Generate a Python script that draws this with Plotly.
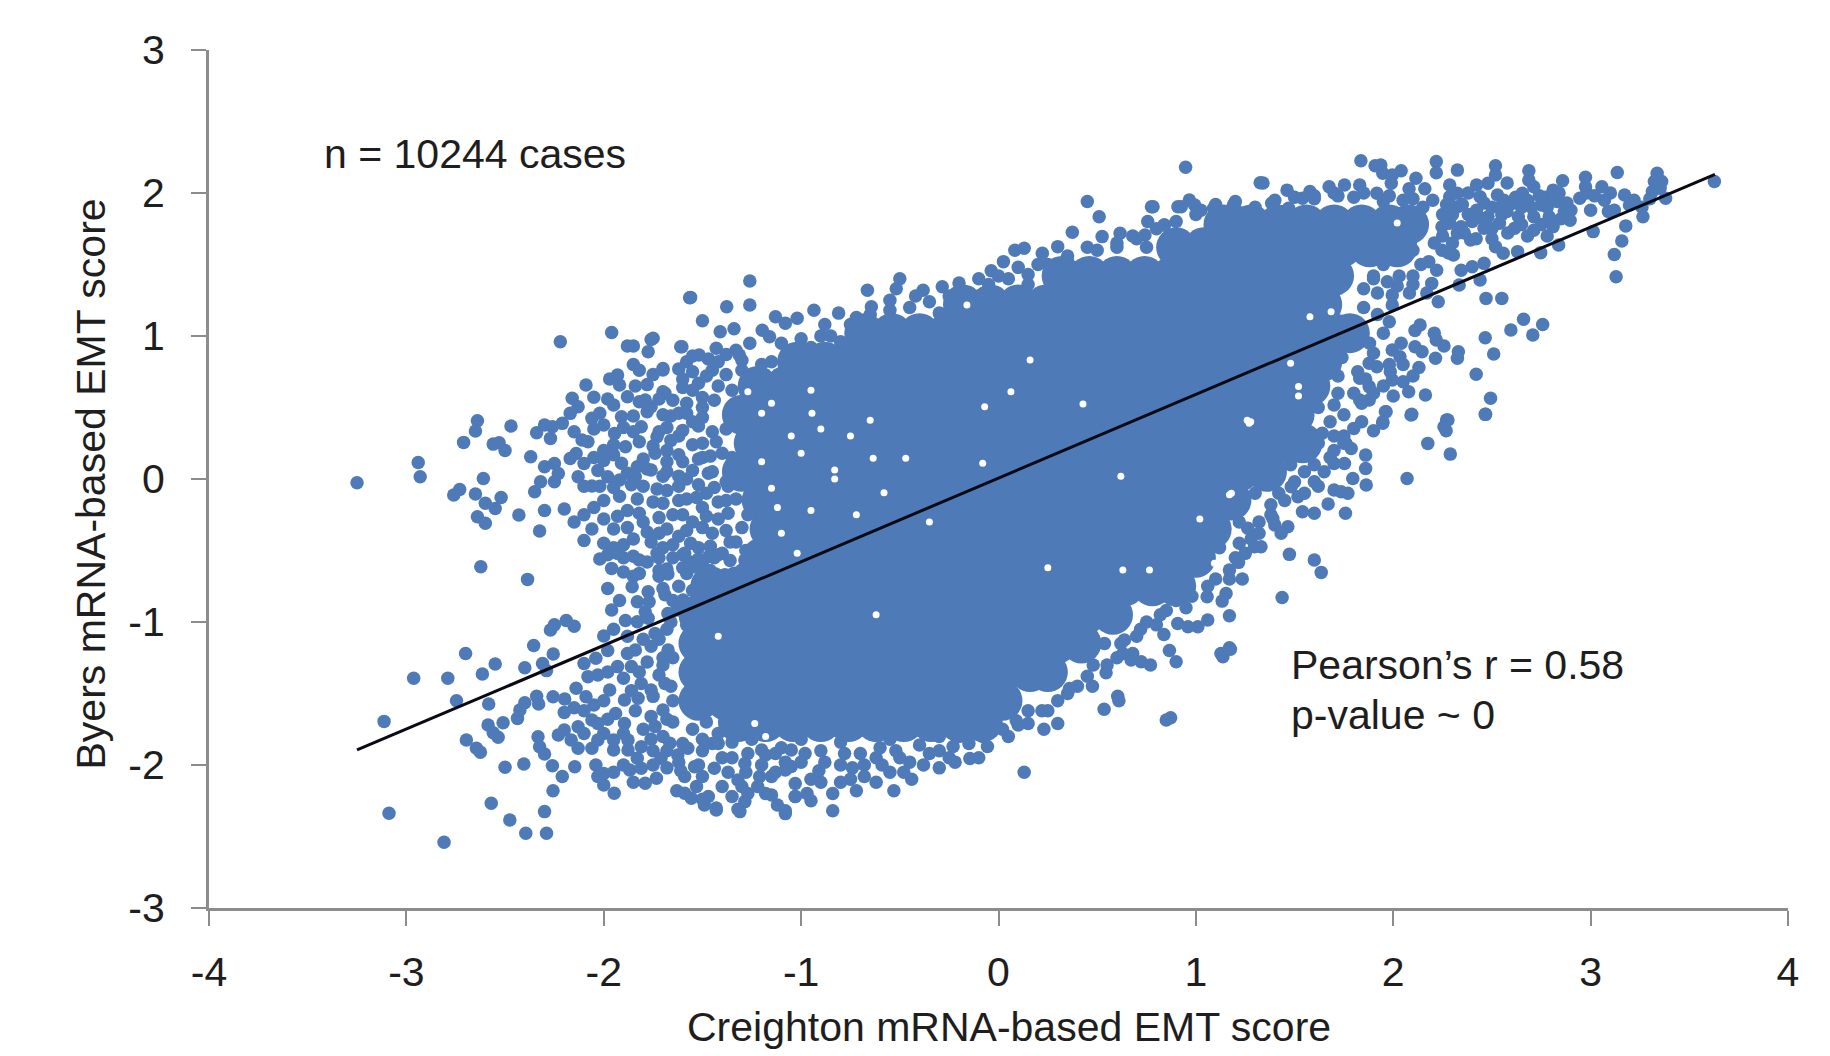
import plotly.graph_objects as go

X_TICKS = [-4, -3, -2, -1, 0, 1, 2, 3, 4]
X_TICK_LABELS = ["-4", "-3", "-2", "-1", "0", "1", "2", "3", "4"]
Y_TICKS = [-3, -2, -1, 0, 1, 2, 3]
Y_TICK_LABELS = ["-3", "-2", "-1", "0", "1", "2", "3"]
FIT_X = [-3.25, 3.63]
FIT_Y = [-1.895, 2.13]

# Saturated body of the cloud, where single cases cannot be told apart: (y, [x...])
core_rows = [
    (1.78, [1.14, 1.28, 1.42, 1.56, 1.70, 1.84, 1.98, 2.08]),
    (1.62, [0.90, 1.04, 1.18, 1.32, 1.46, 1.60, 1.74, 1.88, 2.02]),
    (1.42, [0.32, 0.46, 0.60, 0.74, 0.88, 1.02, 1.16, 1.30, 1.44, 1.58, 1.70]),
    (1.22, [-0.18, -0.04, 0.10, 0.24, 0.38, 0.52, 0.66, 0.80, 0.94, 1.08, 1.22, 1.36, 1.50, 1.64]),
    (1.02, [-0.68, -0.54, -0.40, -0.26, -0.12, 0.02, 0.16, 0.30, 0.44, 0.58, 0.72, 0.86, 1.00, 1.14, 1.28, 1.42, 1.56, 1.70, 1.78]),
    (0.82, [-1.02, -0.88, -0.74, -0.60, -0.46, -0.32, -0.18, -0.04, 0.10, 0.24, 0.38, 0.52, 0.66, 0.80, 0.94, 1.08, 1.22, 1.36, 1.50, 1.64]),
    (0.65, [-1.22, -1.08, -0.94, -0.80, -0.66, -0.52, -0.38, -0.24, -0.10, 0.04, 0.18, 0.32, 0.46, 0.60, 0.74, 0.88, 1.02, 1.16, 1.30, 1.44, 1.58]),
    (0.45, [-1.30, -1.16, -1.02, -0.88, -0.74, -0.60, -0.46, -0.32, -0.18, -0.04, 0.10, 0.24, 0.38, 0.52, 0.66, 0.80, 0.94, 1.08, 1.22, 1.36, 1.50]),
    (0.25, [-1.24, -1.10, -0.96, -0.82, -0.68, -0.54, -0.40, -0.26, -0.12, 0.02, 0.16, 0.30, 0.44, 0.58, 0.72, 0.86, 1.00, 1.14, 1.28, 1.42, 1.54]),
    (0.05, [-1.30, -1.16, -1.02, -0.88, -0.74, -0.60, -0.46, -0.32, -0.18, -0.04, 0.10, 0.24, 0.38, 0.52, 0.66, 0.80, 0.94, 1.08, 1.22, 1.36]),
    (-0.15, [-1.20, -1.06, -0.92, -0.78, -0.64, -0.50, -0.36, -0.22, -0.08, 0.06, 0.20, 0.34, 0.48, 0.62, 0.76, 0.90, 1.04, 1.18]),
    (-0.35, [-1.16, -1.02, -0.88, -0.74, -0.60, -0.46, -0.32, -0.18, -0.04, 0.10, 0.24, 0.38, 0.52, 0.66, 0.80, 0.94, 1.08]),
    (-0.55, [-1.20, -1.06, -0.92, -0.78, -0.64, -0.50, -0.36, -0.22, -0.08, 0.06, 0.20, 0.34, 0.48, 0.62, 0.76, 0.90, 1.00]),
    (-0.75, [-1.46, -1.32, -1.18, -1.04, -0.90, -0.76, -0.62, -0.48, -0.34, -0.20, -0.06, 0.08, 0.22, 0.36, 0.50, 0.64, 0.78, 0.90]),
    (-0.95, [-1.52, -1.38, -1.24, -1.10, -0.96, -0.82, -0.68, -0.54, -0.40, -0.26, -0.12, 0.02, 0.16, 0.30, 0.44, 0.58]),
    (-1.15, [-1.52, -1.38, -1.24, -1.10, -0.96, -0.82, -0.68, -0.54, -0.40, -0.26, -0.12, 0.02, 0.16, 0.30, 0.42]),
    (-1.35, [-1.52, -1.38, -1.24, -1.10, -0.96, -0.82, -0.68, -0.54, -0.40, -0.26, -0.12, 0.02, 0.16, 0.25]),
    (-1.55, [-1.52, -1.38, -1.24, -1.10, -0.96, -0.82, -0.68, -0.54, -0.40, -0.26, -0.12, 0.02]),
    (-1.70, [-1.32, -1.18, -1.04, -0.90, -0.76, -0.62, -0.48, -0.34, -0.20, -0.08]),
]

# Small uncovered specks inside the saturated body
gap_points = [
    (0.063, 0.611), (0.16, 0.832), (-0.07, 0.506), (0.428, 0.524), (-0.83, 0.063), (-0.83, 0.0),
    (-1.15, 0.53), (-1.2, 0.46), (-0.945, 0.46), (-0.08, 0.11), (-1.15, -0.065),
    (-0.47, 0.145), (-0.635, 0.145), (-1.2, 0.12), (-0.65, 0.41), (-1.27, 0.61),
    (1.26, 0.41), (1.18, -0.1), (-0.58, -0.096), (-0.855, 1.10),
    (-0.81, 1.10), (-0.16, 1.217), (1.27, 0.39), (1.17, -0.11), (1.094, -0.59),
    (0.63, -0.637), (0.765, -0.637), (0.91, -0.847),
    (1.52, 0.646), (1.52, 0.58), (1.278, 0.4),
    (1.578, 1.135), (2.02, 1.79), (1.685, 1.17), (1.48, 0.81), (-1.547, -1.813),
    (-1.42, -1.10), (-1.18, -1.80), (-1.235, -1.71),
    (-0.35, -0.30), (0.25, -0.62), (-0.62, -0.95), (0.62, 0.02), (1.02, -0.28), (-0.95, -0.22),
    (-1.05, 0.3), (-1.0, 0.18), (-1.12, -0.2), (-0.9, 0.35), (-0.75, 0.3), (-1.1, -0.38),
    (-0.95, 0.62), (-1.02, -0.52), (-0.72, -0.25),
]

left_upper_points = [
    (-3.25, -0.026), (-2.94, 0.116), (-2.93, 0.016), (-2.64, 0.408), (-2.65, 0.335), (-2.47, 0.37),
    (-2.71, 0.256), (-2.56, 0.244), (-2.53, 0.254), (-2.50, 0.20), (-2.37, 0.156), (-2.61, 0.004),
    (-2.73, -0.073), (-2.76, -0.112), (-2.65, -0.105), (-2.52, -0.129), (-2.60, -0.17), (-2.55, -0.206),
    (-2.43, -0.252), (-2.64, -0.264), (-2.60, -0.31), (-2.325, -0.364), (-2.35, -0.089), (-2.30, -0.22),
    (-2.20, -0.21), (-2.22, 0.96), (-1.96, 1.025), (-1.85, 0.93), (-1.88, 0.93), (-1.76, 0.976),
    (-1.775, 0.89), (-1.85, 0.80), (-1.70, 0.773), (-1.61, 0.925), (-1.565, 1.268), (-2.34, 0.324),
    (-2.30, 0.377), (-2.26, 0.365), (-2.27, 0.284), (-2.21, 0.389), (-2.16, 0.564), (-2.17, 0.459),
    (-2.13, 0.505), (-2.09, 0.657), (-2.05, 0.571), (-2.06, 0.424), (-2.15, 0.33), (-2.11, 0.272),
    (-2.14, 0.179), (-2.10, 0.109), (-2.17, 0.144), (-2.25, 0.109), (-2.30, 0.086), (-2.23, 0.039),
    (-2.32, -0.019), (-2.25, -0.019), (-2.13, 0.016), (-2.06, -0.049), (-1.93, 0.727), (-1.97, 0.70),
    (-1.92, 0.657), (-1.84, 0.65), (-1.88, 0.575), (-1.79, 0.552), (-1.69, 0.6), (-1.95, 0.517),
    (-1.91, 0.435), (-2.0, 0.377), (-1.945, 0.319), (-1.89, 0.226), (-2.0, 0.2), (-2.0, 0.13),
    (-1.91, 0.11), (-1.98, 0.016), (-1.92, -0.007), (-1.83, 0.086), (-1.84, 0.016), (-1.76, 0.505),
    (-1.81, 0.366), (-1.73, 0.296), (-1.74, 0.18), (-1.76, 0.063), (-2.05, -0.2), (-2.0, -0.28),
    (-1.95, -0.35), (-1.92, -0.12), (-1.88, -0.22), (-1.85, -0.42), (-1.8, -0.05), (-1.8, -0.3),
    (-1.75, -0.16), (-1.72, -0.38), (-1.7, -0.48), (-1.68, -0.08), (-1.65, -0.25), (-1.62, -0.4),
    (-1.58, 0.0), (-1.58, -0.14), (-1.55, -0.3), (-1.52, -0.48), (-1.5, -0.2), (-1.48, -0.1),
    (-1.45, -0.38), (-1.42, -0.28), (-1.4, -0.52), (-1.38, -0.15), (-1.36, -0.44), (-1.95, -0.48),
    (-1.9, -0.55), (-1.78, -0.58), (-1.65, -0.55), (-1.6, -0.62), (-1.5, -0.6), (-2.1, -0.43),
    (-2.15, -0.3), (-2.02, -0.05), (-1.7, 0.45), (-1.65, 0.55), (-1.6, 0.7), (-1.58, 0.82),
    (-1.55, 0.62), (-1.55, 0.4), (-1.62, 0.3), (-1.68, 0.2), (-1.6, 0.12), (-1.55, 0.24),
    (-1.7, 0.02), (-1.62, 0.02), (-1.72, 0.33), (-1.5, 0.5), (-1.48, 0.72), (-1.42, 0.82),
    (-1.33, 0.9), (-1.5, 0.15), (-1.45, 0.05), (-1.62, 0.46), (-1.26, 0.95),
]

left_fill_points = [
    (-1.55, 0.86), (-1.47, 0.84), (-1.38, 0.87), (-1.3, 0.83), (-1.82, 0.76), (-1.75, 0.73), (-1.62, 0.77),
    (-1.55, 0.75), (-1.45, 0.76), (-1.38, 0.73), (-1.3, 0.76), (-1.78, 0.66), (-1.6, 0.64), (-1.52, 0.67),
    (-1.42, 0.65), (-1.35, 0.62), (-1.98, 0.56), (-1.82, 0.54), (-1.72, 0.56), (-1.58, 0.53), (-1.5, 0.57),
    (-1.44, 0.55), (-2.02, 0.46), (-1.85, 0.44), (-1.78, 0.47), (-1.66, 0.44), (-1.58, 0.46), (-1.5, 0.43),
    (-2.05, 0.35), (-1.9, 0.36), (-1.85, 0.33), (-1.68, 0.36), (-1.6, 0.34), (-1.52, 0.37), (-1.45, 0.33),
    (-2.08, 0.26), (-1.95, 0.24), (-1.82, 0.26), (-1.75, 0.23), (-1.66, 0.27), (-1.5, 0.25), (-1.43, 0.26),
    (-2.05, 0.15), (-1.95, 0.17), (-1.8, 0.14), (-1.68, 0.12), (-1.62, 0.17), (-1.52, 0.14), (-1.46, 0.16),
    (-2.03, 0.06), (-1.88, 0.04), (-1.78, 0.07), (-1.68, 0.05), (-1.55, 0.06), (-1.47, 0.04), (-2.1, -0.05),
    (-1.95, -0.06), (-1.86, -0.04), (-1.73, -0.07), (-1.62, -0.05), (-1.52, -0.04), (-1.44, -0.06), (-1.37, -0.05),
    (-2.0, -0.15), (-1.83, -0.14), (-1.7, -0.17), (-1.62, -0.15), (-1.53, -0.13), (-1.42, -0.16), (-1.33, -0.14),
    (-2.1, -0.25), (-1.93, -0.26), (-1.82, -0.24), (-1.72, -0.27), (-1.6, -0.25), (-1.48, -0.26), (-1.37, -0.24),
    (-2.06, -0.35), (-1.88, -0.34), (-1.78, -0.37), (-1.68, -0.35), (-1.58, -0.36), (-1.5, -0.34), (-1.38, -0.36),
    (-1.3, -0.34), (-2.0, -0.45), (-1.9, -0.46), (-1.76, -0.44), (-1.65, -0.46), (-1.56, -0.45), (-1.46, -0.47),
    (-1.33, -0.44), (-2.02, -0.56), (-1.85, -0.54), (-1.72, -0.55), (-1.6, -0.53), (-1.52, -0.56), (-1.44, -0.55),
    (-1.36, -0.57), (-1.9, -0.65), (-1.82, -0.66), (-1.72, -0.64), (-1.58, -0.66), (-1.46, -0.64), (-1.34, -0.66),
    (-1.68, -0.63), (-1.28, -0.5), (-1.27, -0.25), (-1.35, 0.15), (-1.38, 0.35), (-1.4, 0.18), (-1.38, -0.02),
]

upper_edge_points = [
    (-1.26, 1.385), (-1.56, 1.27), (-1.377, 1.205), (-1.26, 1.217), (-1.5, 1.107), (-1.41, 1.03),
    (-1.34, 1.05), (-1.197, 1.04), (-1.13, 1.135), (-1.08, 1.09), (-1.02, 1.124), (-1.16, 0.995),
    (-0.935, 1.18), (-0.81, 1.16), (-0.664, 1.32), (-0.5, 1.40), (-0.518, 1.33), (-0.644, 1.205),
    (-0.382, 1.32), (-0.285, 1.345), (-0.037, 1.457), (0.025, 1.52), (0.083, 1.6), (0.13, 1.613),
    (0.222, 1.578), (0.3, 1.625), (0.374, 1.725), (0.51, 1.834), (0.45, 1.94), (0.616, 1.718),
    (0.525, 1.695), (0.742, 1.706), (0.756, 1.8), (0.775, 1.904), (0.84, 1.776), (0.926, 1.904),
    (0.994, 1.916), (1.09, 1.893), (1.197, 1.904), (-1.604, 0.925), (-1.70, 0.762), (-1.75, 0.984),
    (-1.517, 0.867), (-1.43, 0.914), (-1.313, 0.867), (-1.70, 0.61), (-0.88, 1.08), (-0.72, 1.13),
    (-0.55, 1.25), (-0.42, 1.28), (-0.2, 1.37), (-0.1, 1.4), (0.0, 1.42), (0.1, 1.48),
    (0.2, 1.5), (0.35, 1.56), (0.45, 1.62), (0.6, 1.65), (0.68, 1.7), (0.948, 2.18),
    (1.326, 2.072), (1.34, 2.07), (1.462, 2.02), (0.967, 1.951), (0.909, 1.904), (1.026, 1.88),
    (1.1, 1.88), (1.19, 1.916), (1.23, 1.858), (1.384, 1.928), (1.297, 1.858), (1.47, 1.893),
    (1.578, 2.01), (1.54, 1.963), (1.675, 2.044), (1.753, 2.056), (1.83, 2.056), (1.917, 1.998),
    (0.783, 1.904), (0.84, 1.776), (1.6, 1.96), (1.72, 1.98), (1.8, 1.97), (1.98, 1.98),
    (2.08, 2.03), (2.16, 2.03), (2.2, 1.95), (2.1, 1.96), (-1.2, 0.8), (-1.1, 0.95),
    (-1.0, 0.98), (-0.9, 1.0), (-0.85, 1.0), (-0.75, 1.08), (-0.65, 1.15), (-0.55, 1.18),
    (-0.45, 1.2), (-0.35, 1.24), (-0.25, 1.28), (-0.15, 1.3), (-0.05, 1.36), (0.05, 1.4),
    (0.15, 1.43), (0.25, 1.5), (0.35, 1.52), (0.5, 1.6), (0.6, 1.62), (0.7, 1.68),
    (0.8, 1.75), (0.9, 1.8), (1.0, 1.85), (1.1, 1.92), (1.2, 1.94), (1.3, 1.9),
    (1.4, 1.95), (1.5, 1.97), (1.6, 1.98), (1.7, 2.0), (1.85, 2.0), (1.95, 1.94),
    (2.05, 1.95), (2.15, 1.9), (-1.25, 0.72), (-1.15, 0.82), (-1.05, 0.88), (-0.95, 0.92),
    (-0.8, 0.96), (-0.55, 1.12), (-0.3, 1.16), (-0.1, 1.28), (0.15, 1.36), (0.4, 1.48), (0.75, 1.62),
]

upper_right_points = [
    (1.836, 2.226), (1.937, 2.196), (1.908, 2.19), (1.947, 2.138), (2.04, 2.156), (1.995, 2.126),
    (1.99, 2.068), (2.115, 2.103), (2.218, 2.22), (2.218, 2.142), (2.325, 2.16), (2.518, 2.19),
    (2.518, 2.126), (2.577, 2.07), (2.687, 2.156), (2.687, 2.09), (2.858, 2.086), (2.974, 2.11),
    (2.974, 2.044), (2.945, 1.963), (3.057, 2.044), (3.07, 1.95), (3.09, 1.87), (3.135, 2.144),
    (3.172, 1.986), (3.197, 1.916), (3.337, 2.138), (3.323, 2.08), (3.352, 2.033), (3.313, 2.01),
    (3.38, 1.963), (3.627, 2.08), (3.265, 1.834), (3.178, 1.77), (3.158, 1.664), (3.12, 1.57),
    (3.129, 1.415), (3.013, 1.73), (2.838, 1.636), (2.747, 1.583), (2.63, 1.59), (2.557, 1.578),
    (2.518, 1.625), (2.46, 1.508), (2.40, 1.485), (2.344, 1.46), (2.44, 1.392), (2.334, 1.357),
    (2.47, 1.263), (2.55, 1.263), (2.195, 1.368), (2.228, 1.24), (2.17, 1.30), (2.082, 1.30),
    (1.995, 1.287), (1.995, 1.217), (2.286, 2.056), (2.286, 1.974), (2.325, 1.998), (2.325, 1.904),
    (2.286, 1.788), (2.247, 1.764), (2.344, 1.764), (2.392, 1.672), (2.325, 1.718), (2.247, 1.6),
    (2.305, 1.566), (2.208, 1.65), (2.422, 2.056), (2.48, 2.068), (2.44, 1.974), (2.528, 1.986),
    (2.422, 1.88), (2.48, 1.834), (2.46, 1.753), (2.538, 1.788), (2.615, 1.753), (2.605, 1.928),
    (2.654, 1.998), (2.712, 2.044), (2.81, 2.02), (2.83, 1.94), (2.75, 1.916), (2.712, 1.74),
    (2.81, 1.765), (2.896, 1.81), (2.867, 1.87), (2.79, 1.834), (2.634, 1.834), (2.712, 1.834),
    (2.576, 1.87), (2.5, 1.9), (2.4, 1.8), (2.56, 1.95), (2.65, 1.9), (2.74, 1.98),
    (2.3, 1.85), (2.88, 1.93), (2.78, 1.9), (2.1, 1.6), (2.14, 1.5), (2.05, 1.55),
    (2.1, 1.42), (2.03, 1.42), (1.95, 1.5), (1.9, 1.42), (1.85, 1.33), (1.92, 1.3),
    (2.35, 1.92), (2.38, 2.0), (2.38, 1.85), (2.45, 1.82), (2.5, 1.75), (2.55, 1.85),
    (2.58, 1.72), (2.65, 1.78), (2.68, 1.7), (2.75, 1.78), (2.78, 1.7), (2.85, 1.82),
    (2.9, 1.88), (2.62, 1.97), (2.68, 1.95), (2.7, 1.9), (2.77, 1.97), (2.84, 2.0),
    (2.46, 1.93), (2.54, 1.9), (2.36, 1.72), (2.42, 1.68), (2.5, 1.68), (2.3, 1.65),
    (2.25, 1.7), (2.25, 1.85), (2.27, 1.92), (3.1, 2.0), (3.02, 1.98), (3.12, 1.88),
    (3.22, 1.95), (3.26, 1.9), (3.3, 1.96), (3.36, 2.08), (3.0, 1.88), (2.98, 2.0),
    (2.18, 1.52), (2.22, 1.46), (2.28, 1.58), (2.1, 1.36), (2.02, 1.35), (1.97, 1.38),
]

right_lower_points = [
    (2.66, 1.117), (2.757, 1.08), (2.596, 1.042), (2.707, 1.007), (2.466, 0.988), (2.509, 0.874),
    (2.42, 0.732), (2.493, 0.564), (2.466, 0.452), (2.136, 1.077), (2.11, 1.038), (2.208, 1.02),
    (2.218, 0.972), (2.257, 0.93), (2.33, 0.89), (2.325, 0.844), (2.214, 0.844), (2.146, 0.89),
    (2.04, 0.95), (2.11, 0.925), (1.995, 0.902), (2.034, 0.855), (2.13, 0.78), (2.10, 0.72),
    (1.985, 0.75), (1.995, 0.692), (2.078, 0.61), (2.163, 0.587), (2.09, 0.447), (2.27, 0.413),
    (2.257, 0.366), (1.96, 0.47), (1.947, 0.4), (1.878, 0.646), (1.83, 0.552), (1.878, 0.552),
    (1.878, 0.81), (1.917, 0.785), (1.83, 0.704), (1.70, 0.517), (1.84, 0.53), (1.964, 0.47),
    (1.947, 0.39), (1.90, 0.338), (1.84, 0.40), (1.80, 0.354), (2.094, 0.452), (2.277, 0.412),
    (2.268, 0.338), (2.468, 0.452), (2.175, 0.249), (2.289, 0.174), (2.07, 0.004), (1.86, 0.167),
    (1.86, 0.074), (1.863, -0.042), (1.795, 0.004), (1.753, 0.109), (1.70, 0.109), (1.65, 0.05),
    (1.787, 0.214), (1.76, 0.249), (1.736, -0.089), (1.77, -0.1), (1.70, -0.077), (1.60, -0.019),
    (1.67, -0.175), (1.758, -0.24), (1.60, -0.24), (1.54, -0.229), (1.517, -0.124), (1.483, -0.054),
    (1.39, -0.276), (1.40, -0.322), (1.466, -0.334), (1.432, -0.38), (1.297, -0.474), (1.33, -0.474),
    (1.474, -0.527), (1.60, -0.567), (1.635, -0.653), (1.437, -0.828), (1.216, -0.583), (1.17, -0.637),
    (1.235, -0.70), (1.153, -0.80), (1.133, -0.854), (1.17, -0.956), (1.057, -0.823), (1.06, -0.986),
    (1.01, -1.033), (0.96, -1.033), (0.908, -1.01), (0.838, -1.087), (0.866, -1.2), (0.90, -1.278),
    (1.175, -1.19), (1.137, -1.243), (0.723, -1.278), (0.672, -1.266), (0.63, -1.22), (0.545, -1.355),
    (0.604, -1.52), (0.537, -1.15), (0.638, -1.126), (1.263, -0.345), (1.7, 0.3), (1.62, 0.25),
    (1.55, -0.1), (1.45, -0.15), (1.32, -0.3), (1.22, -0.45), (0.75, -1.0), (0.85, -0.92),
    (0.95, -0.9), (0.7, -1.1), (0.6, -1.25), (0.45, -1.38), (0.35, -1.5), (0.22, -1.62),
    (0.05, -1.8), (1.9, 1.4), (1.85, 1.2), (1.92, 1.15), (1.98, 1.1), (1.95, 1.02),
    (1.88, 0.95), (1.9, 0.88), (1.82, 0.75), (1.86, 0.7), (1.8, 0.6), (1.72, 0.6),
    (1.75, 0.45), (1.68, 0.4), (1.75, 0.3), (1.7, 0.2), (1.68, 0.15), (1.6, 0.1),
    (1.62, -0.05), (1.55, 0.05), (1.5, -0.02), (1.42, -0.1), (1.38, -0.18), (1.38, -0.25),
    (1.32, -0.38), (1.28, -0.42), (1.25, -0.52), (1.2, -0.55), (1.17, -0.7), (1.1, -0.7),
    (1.06, -0.75), (0.98, -0.82), (0.9, -0.85), (0.82, -0.95), (0.8, -1.02), (0.72, -1.05),
    (0.62, -1.15), (0.55, -1.3), (0.48, -1.3), (0.4, -1.45), (0.3, -1.55), (0.25, -1.62),
    (0.15, -1.62), (0.1, -1.72), (1.9, 0.6), (1.95, 0.65), (2.0, 0.58), (1.98, 0.8),
    (2.05, 0.8), (2.05, 0.68), (1.75, 0.25), (1.72, 0.72), (1.74, 0.85), (1.62, 0.5),
    (1.64, 0.32), (1.48, 0.1), (1.45, 0.2), (1.3, -0.1), (1.22, -0.3), (1.12, -0.48),
]

left_lower_points = [
    (-2.623, -0.613), (-2.386, -0.702), (-1.98, -0.765), (-1.856, -0.753), (-1.96, -0.625), (-1.98, -0.53),
    (-1.93, -0.52), (-1.82, -0.567), (-1.73, -0.52), (-1.675, -0.664), (-1.775, -0.788), (-1.70, -0.765),
    (-1.69, -0.81), (-1.83, -0.858), (-1.77, -0.858), (-1.96, -0.916), (-1.79, -0.928), (-1.89, -0.99),
    (-1.83, -0.998), (-1.775, -0.974), (-1.598, -0.846), (-1.675, -0.94), (-1.63, -0.916), (-1.565, -0.578),
    (-1.54, -0.613), (-1.59, -0.52), (-1.47, -0.543), (-1.42, -0.53), (-1.49, -0.683), (-1.505, -0.74),
    (-1.44, -0.753), (-1.386, -0.67), (-1.30, -0.636), (-1.285, -0.567), (-2.27, -1.056), (-2.25, -1.02),
    (-2.19, -0.99), (-2.15, -1.03), (-2.0, -1.098), (-2.355, -1.165), (-2.256, -1.224), (-2.31, -1.29),
    (-2.29, -1.34), (-2.40, -1.32), (-2.70, -1.22), (-2.55, -1.294), (-2.615, -1.364), (-2.963, -1.394),
    (-2.79, -1.394), (-2.746, -1.55), (-2.583, -1.573), (-3.113, -1.695), (-2.34, -1.52), (-2.33, -1.573),
    (-2.40, -1.564), (-2.425, -1.615), (-2.437, -1.674), (-2.257, -1.522), (-2.198, -1.538), (-2.2, -1.632),
    (-2.586, -1.72), (-2.51, -1.704), (-2.56, -1.774), (-2.535, -1.806), (-2.696, -1.825), (-2.645, -1.883),
    (-2.625, -1.91), (-2.333, -1.802), (-2.325, -1.872), (-2.30, -1.923), (-2.50, -2.016), (-2.405, -1.993),
    (-2.26, -2.005), (-2.147, -2.012), (-2.21, -2.08), (-2.257, -2.18), (-2.57, -2.268), (-2.30, -2.326),
    (-2.476, -2.385), (-3.088, -2.338), (-2.395, -2.478), (-2.29, -2.478), (-2.809, -2.54), (-2.04, -2.0),
    (-2.0, -2.06), (-2.03, -2.08), (-2.0, -2.14), (-1.947, -2.198), (-1.868, -2.035), (-1.81, -2.023),
    (-1.79, -2.128), (-1.733, -2.093), (-1.59, -2.08), (-1.54, -2.012), (-1.59, -2.198), (-1.556, -2.233),
    (-1.53, -2.15), (-1.47, -2.22), (-1.49, -2.28), (-1.43, -2.315), (-1.285, -2.256), (-1.31, -2.326),
    (-1.21, -2.08), (-1.15, -2.21), (-1.08, -2.34), (-1.03, -2.22), (-1.03, -2.13), (-1.44, -2.023),
    (-1.37, -2.05), (-1.32, -2.105), (-1.30, -2.15), (-1.13, -2.05), (-1.08, -2.035), (-1.05, -2.01),
    (-1.27, -1.92), (-1.285, -1.99), (-1.2, -1.895), (-1.13, -1.92), (-1.05, -1.895), (-2.10, -1.29),
    (-2.04, -1.254), (-2.08, -1.382), (-2.03, -1.37), (-2.14, -1.464), (-2.09, -1.522), (-2.05, -1.58),
    (-1.93, -1.312), (-1.86, -1.312), (-1.97, -1.475), (-1.90, -1.394), (-1.84, -1.196), (-1.76, -1.17),
    (-1.674, -1.196), (-1.81, -1.43), (-1.76, -1.475), (-1.69, -1.43), (-1.895, -1.545), (-1.94, -1.64),
    (-1.895, -1.71), (-1.826, -1.533), (-1.76, -1.66), (-1.70, -1.615), (-1.74, -1.73), (-1.70, -1.80),
    (-2.06, -1.685), (-2.13, -1.732), (-2.03, -1.71), (-2.2, -1.755), (-2.23, -1.79), (-2.165, -1.825),
    (-2.13, -1.883), (-2.06, -1.883), (-2.03, -1.825), (-1.95, -1.825), (-1.95, -1.895), (-1.877, -1.825),
    (-1.877, -1.895), (-1.81, -1.872), (-1.83, -1.953), (-1.71, -1.953), (-1.625, -1.93), (-1.574, -1.883),
    (-1.665, -1.848), (-1.70, -1.3), (-1.68, -1.05), (-1.65, -1.55), (-1.65, -1.7), (-1.55, -1.75),
    (-1.5, -1.82), (-1.42, -1.85), (-1.74, -1.08), (-1.95, -1.05), (-1.88, -1.1), (-1.8, -1.12),
    (-1.72, -1.12), (-1.66, -1.0), (-1.7, -1.25), (-1.78, -1.28), (-1.88, -1.22), (-1.98, -1.2),
    (-1.98, -1.35), (-1.82, -1.35), (-1.72, -1.37), (-1.86, -1.48), (-1.75, -1.52), (-1.66, -1.45),
    (-2.0, -1.55), (-1.98, -1.68), (-1.84, -1.62), (-1.68, -1.68), (-1.8, -1.75), (-1.9, -1.78),
    (-2.0, -1.78), (-2.1, -1.62), (-2.15, -1.6), (-1.76, -1.82), (-1.68, -1.9), (-1.75, -1.9),
    (-2.1, -1.78), (-1.65, -1.25), (-1.58, -1.02), (-1.62, -0.75), (-1.55, -0.78), (-1.72, -0.68),
    (-1.85, -0.68), (-1.92, -0.85), (-1.65, -0.85), (-1.95, -2.05), (-1.9, -2.0), (-1.75, -2.0),
    (-1.68, -2.02), (-1.62, -1.98), (-1.85, -2.12),
]

bottom_edge_points = [
    (-1.61, -2.04), (-1.5, -2.08), (-1.63, -2.18), (-1.5, -2.24), (-1.43, -2.3), (-1.32, -2.31),
    (-1.27, -2.2), (-1.08, -2.32), (-1.03, -2.22), (-0.97, -2.2), (-0.84, -2.2), (-0.84, -2.32),
    (-0.68, -2.08), (-0.53, -2.18), (-0.44, -2.1), (-0.38, -2.0), (-1.15, -2.08), (-0.91, -2.04),
    (-0.74, -2.02), (-0.59, -2.0), (-0.23, -1.87), (-0.145, -1.955), (-0.056, -1.87), (0.02, -1.75),
    (0.15, -1.71), (0.23, -1.75), (0.3, -1.71), (0.476, -1.45), (0.535, -1.61), (0.61, -1.55),
    (0.36, -1.465), (0.68, -1.22), (0.77, -1.3), (0.872, -1.67), (0.85, -1.685), (1.127, -1.22),
    (1.17, -1.18), (0.09, -1.69), (0.13, -2.05), (-1.4, -1.95), (-1.2, -2.0), (-1.0, -1.98),
    (-0.8, -2.0), (-0.5, -1.95), (-0.3, -1.9), (-1.45, -1.85), (-1.5, -1.9), (-0.95, -2.1),
    (-0.75, -2.1), (-0.9, -1.9), (-0.7, -1.92), (-0.6, -1.88), (-0.4, -1.86), (-0.2, -1.8),
    (-1.1, -1.88), (-1.35, -1.84), (-1.6, -1.85), (-1.52, -2.0), (-1.35, -1.95), (-1.28, -2.05),
    (-1.18, -1.93), (-1.08, -1.98), (-0.98, -1.92), (-0.88, -1.98), (-0.78, -1.92), (-0.68, -2.0),
    (-0.62, -1.95), (-0.52, -1.9), (-0.45, -1.98), (-0.35, -1.92), (-0.25, -1.95), (-0.15, -1.85),
    (-0.08, -1.8), (-1.22, -2.15), (-1.12, -2.28), (-0.95, -2.25), (-0.9, -2.12), (-0.8, -2.12),
    (-0.72, -2.18), (-0.62, -2.12), (-0.55, -2.05), (-0.48, -2.05), (-1.4, -2.15), (-1.35, -2.22),
    (-1.18, -2.2), (-0.3, -2.02), (-0.22, -1.98), (-0.1, -1.95), (-1.48, -1.7), (-1.42, -1.78),
    (-1.25, -1.82), (-1.0, -1.82), (-0.8, -1.84), (-0.55, -1.82), (-0.3, -1.8), (-0.12, -1.72),
]

scatter_points = (left_upper_points + left_fill_points + upper_edge_points + upper_right_points
                  + right_lower_points + left_lower_points + bottom_edge_points)

BLUE = "#4F7AB8"
GREY = "#8C8C8C"
INK = "#1E1E1E"
FONT = "Liberation Sans"

core_x = [x for y, row in core_rows for x in row]
core_y = [y for y, row in core_rows for x in row]

fig = go.Figure()
fig.add_trace(go.Scatter(x=core_x, y=core_y, mode="markers", name="dense body",
                         marker=dict(color=BLUE, size=40, line=dict(width=0)), hoverinfo="skip"))
fig.add_trace(go.Scatter(x=[p[0] for p in gap_points], y=[p[1] for p in gap_points], mode="markers",
                         name="gaps", marker=dict(color="white", size=7, line=dict(width=0)), hoverinfo="skip"))
fig.add_trace(go.Scatter(x=[p[0] for p in scatter_points], y=[p[1] for p in scatter_points], mode="markers",
                         name="cases", marker=dict(color=BLUE, size=13.5, line=dict(width=0))))
fig.add_trace(go.Scatter(x=FIT_X, y=FIT_Y, mode="lines", name="fit", line=dict(color="#0A0A14", width=3)))

axis_common = dict(showgrid=False, zeroline=False, showline=True, linecolor=GREY, linewidth=3,
                   ticks="outside", tickcolor=GREY, tickwidth=2, ticklen=15, tickmode="array",
                   tickfont=dict(family=FONT, size=41, color=INK))
title_font = dict(family=FONT, size=41, color=INK)

fig.update_layout(
    width=1830, height=1056, margin=dict(l=209, r=42, t=50, b=148, autoexpand=False),
    paper_bgcolor="white", plot_bgcolor="white", showlegend=False,
    xaxis=dict(range=[-4, 4], tickvals=X_TICKS, ticktext=X_TICK_LABELS, ticklabelstandoff=11, **axis_common),
    yaxis=dict(range=[-3, 3], tickvals=Y_TICKS, ticktext=Y_TICK_LABELS, ticklabelstandoff=18, **axis_common),
    annotations=[
        dict(text="Creighton mRNA-based EMT score", x=0.5067, y=-0.1387, xref="paper", yref="paper",
             xanchor="center", yanchor="middle", showarrow=False, font=title_font),
        dict(text="Byers mRNA-based EMT score", x=-0.0745, y=0.494, xref="paper", yref="paper", textangle=-90,
             xanchor="center", yanchor="middle", showarrow=False, font=title_font),
        dict(text="n = 10244 cases", x=-3.43, y=2.27, xref="x", yref="y", xanchor="left", yanchor="middle",
             showarrow=False, font=title_font),
        dict(text="Pearson’s r = 0.58", x=1.47, y=-1.30, xref="x", yref="y", xanchor="left", yanchor="middle",
             showarrow=False, font=title_font),
        dict(text="p-value ~ 0", x=1.47, y=-1.65, xref="x", yref="y", xanchor="left", yanchor="middle",
             showarrow=False, font=title_font),
    ],
)

fig.write_html("out.html", config={"displayModeBar": False},
               post_script="document.body.style.margin='0';document.body.style.overflow='hidden';")
